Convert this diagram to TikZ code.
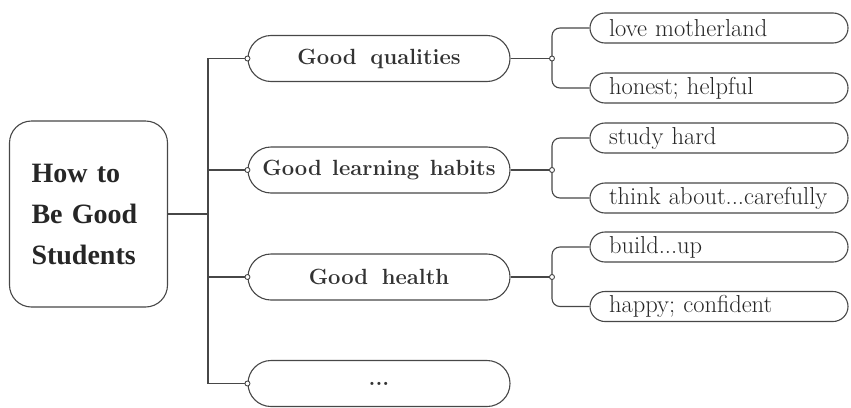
\documentclass[tikz,border=0pt]{standalone}
\usepackage{fontspec}
\newfontfamily\rootfont{Liberation Serif}
\begin{document}
\begin{tikzpicture}[x=1pt,y=-1pt,
  ink/.style={draw=black!72, line width=1.1pt},
  rootbox/.style={ink, rectangle, rounded corners=22pt, minimum width=158pt, minimum height=186pt, inner xsep=22pt, text width=114pt, align=left, font=\rootfont\bfseries\fontsize{28}{41}\selectfont, text=black!85},
  topic/.style={ink, rectangle, rounded corners=23pt, minimum width=262pt, minimum height=46pt, font=\bfseries\fontsize{22}{26}\selectfont, text=black!80},
  leaf/.style={ink, rectangle, rounded corners=15pt, minimum height=30pt, inner xsep=19pt, inner ysep=0pt, text width=220pt, align=left, font=\fontsize{24.5}{28}\selectfont, text=black!85},
  jdot/.style={circle, draw=black!72, line width=0.9pt, fill=white, inner sep=0pt, minimum size=5pt},
  conn/.style={ink, rounded corners=8pt}]
\useasboundingbox (0,0) rectangle (851,407);
% root
\node[rootbox] (root) at (88.5,214) {How to\\Be Good\\Students};
% topics
\node[topic] (q) at (379,58.5) {Good\hspace{0.25em} qualities};
\node[topic] (l) at (379,170) {Good\hspace{0.1em} learning\hspace{0.1em} habits};
\node[topic] (h) at (379,277) {Good\hspace{0.25em} health};
\node[topic] (e) at (379,383.5) {...};
% leaves
\node[leaf] (c1) at (719,28) {love motherland};
\node[leaf] (c2) at (719,88) {honest; helpful};
\node[leaf] (c3) at (719,138) {study hard};
\node[leaf] (c4) at (719,198) {think about...carefully};
\node[leaf] (c5) at (719,247) {build...up};
\node[leaf] (c6) at (719,306.5) {happy; confident};
% trunk
\coordinate (tk) at (208,0);
\coordinate (bx) at (552,0);
\draw[ink] (root.east) -- (root.east -| tk);
\draw[ink] (q.west) -- (q.west -| tk) -- (e.west -| tk) -- (e.west);
\draw[ink] (l.west) -- (l.west -| tk);
\draw[ink] (h.west) -- (h.west -| tk);
% brackets
\draw[conn] (c1.west) -- (c1.west -| bx) -- (c2.west -| bx) -- (c2.west);
\draw[conn] (c3.west) -- (c3.west -| bx) -- (c4.west -| bx) -- (c4.west);
\draw[conn] (c5.west) -- (c5.west -| bx) -- (c6.west -| bx) -- (c6.west);
\draw[ink] (q.east) -- (q.east -| bx);
\draw[ink] (l.east) -- (l.east -| bx);
\draw[ink] (h.east) -- (h.east -| bx);
% junction dots
\node[jdot] (dq) at (q.west) {};
\node[jdot] (dl) at (l.west) {};
\node[jdot] (dh) at (h.west) {};
\node[jdot] (de) at (e.west) {};
\node[jdot] (bq) at (q.east -| bx) {};
\node[jdot] (bl) at (l.east -| bx) {};
\node[jdot] (bh) at (h.east -| bx) {};
\end{tikzpicture}
\end{document}
